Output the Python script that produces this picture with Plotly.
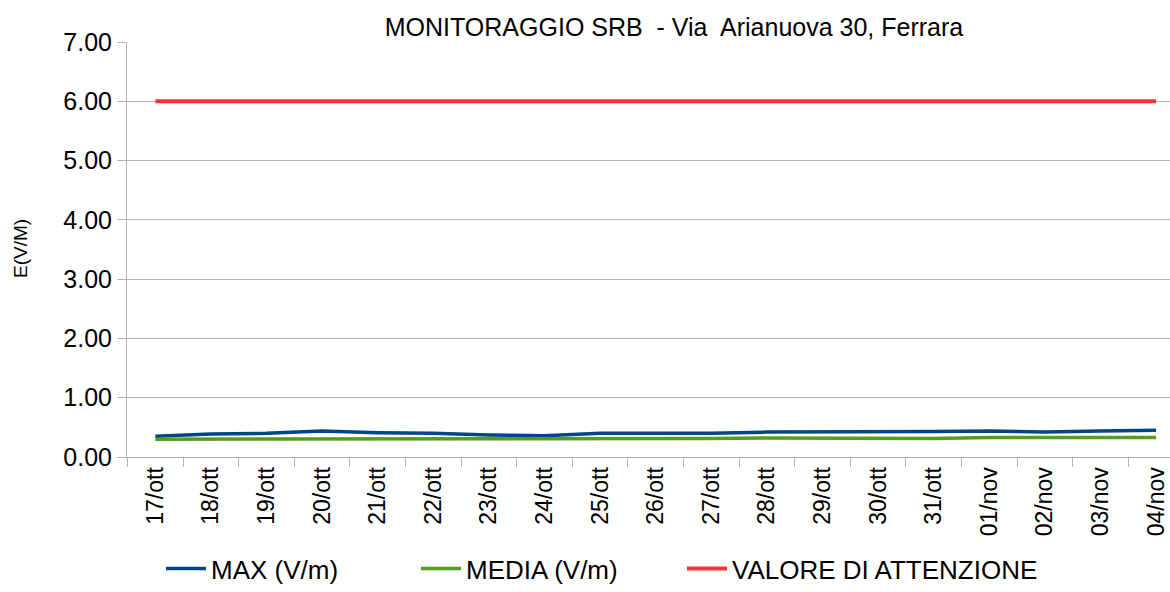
import plotly.graph_objects as go

dates = ["17/ott", "18/ott", "19/ott", "20/ott", "21/ott", "22/ott", "23/ott", "24/ott",
         "25/ott", "26/ott", "27/ott", "28/ott", "29/ott", "30/ott", "31/ott",
         "01/nov", "02/nov", "03/nov", "04/nov"]
max_vm = [0.35, 0.39, 0.40, 0.44, 0.41, 0.40, 0.37, 0.36, 0.40, 0.40, 0.40, 0.42,
          0.42, 0.42, 0.43, 0.44, 0.42, 0.44, 0.45]
media_vm = [0.30, 0.30, 0.31, 0.31, 0.31, 0.31, 0.31, 0.31, 0.31, 0.31, 0.31, 0.32,
            0.32, 0.32, 0.31, 0.33, 0.33, 0.33, 0.33]
attenzione = [6.0] * len(dates)

font = "Liberation Sans, Arial, sans-serif"

W, H = 1170, 592
L, T, B = 127, 42, 135
PW, PH = W - L, H - T - B

fig = go.Figure()
fig.add_trace(go.Scatter(x=dates, y=max_vm, mode="lines", name="MAX (V/m)",
                         line=dict(color="#004586", width=3.5), legend="legend"))
fig.add_trace(go.Scatter(x=dates, y=media_vm, mode="lines", name="MEDIA (V/m)",
                         line=dict(color="#579d1c", width=3.5), legend="legend2"))
fig.add_trace(go.Scatter(x=dates, y=attenzione, mode="lines", name="VALORE DI ATTENZIONE",
                         line=dict(color="#ff3333", width=4), legend="legend3"))

def leg(xpage):
    return dict(orientation="h", x=(xpage - L) / PW, xanchor="left",
                y=-(H - 457) / PH, yanchor="bottom", bgcolor="rgba(0,0,0,0)",
                font=dict(size=26, family=font), itemwidth=40)

fig.update_layout(
    width=W, height=H,
    margin=dict(l=L, r=0, t=T, b=B, autoexpand=False),
    paper_bgcolor="white", plot_bgcolor="white",
    font=dict(family=font, color="black", size=20),
    title=dict(text="MONITORAGGIO SRB  - Via  Arianuova 30, Ferrara",
               x=674 / W, xanchor="center", y=1 - 27 / H, yanchor="middle",
               font=dict(size=25, family=font)),
    showlegend=True,
    legend=leg(161), legend2=leg(416), legend3=leg(682),
    xaxis=dict(type="category", range=[-0.51, 18.25], showgrid=False,
               showline=True, linecolor="#b3b3b3", linewidth=1,
               ticks="outside", tickson="boundaries", ticklen=9, tickcolor="#b3b3b3",
               tickangle=-90, tickfont=dict(size=23, family=font)),
    yaxis=dict(range=[0, 7], dtick=1, tickformat=".2f", showgrid=True,
               gridcolor="#b3b3b3", gridwidth=1, zeroline=False,
               showline=True, linecolor="#b3b3b3", linewidth=1,
               ticks="outside", ticklen=9, tickcolor="#b3b3b3",
               tickfont=dict(size=25, family=font)),
    annotations=[dict(text="E(V/M)", xref="paper", yref="paper",
                      x=(21 - L) / PW, y=(457 - 249) / PH,
                      xanchor="center", yanchor="middle", textangle=-90,
                      showarrow=False, font=dict(size=19, family=font))],
)

fig.write_html("out.html", config={"displayModeBar": False},
               post_script="document.body.style.margin='0';")
